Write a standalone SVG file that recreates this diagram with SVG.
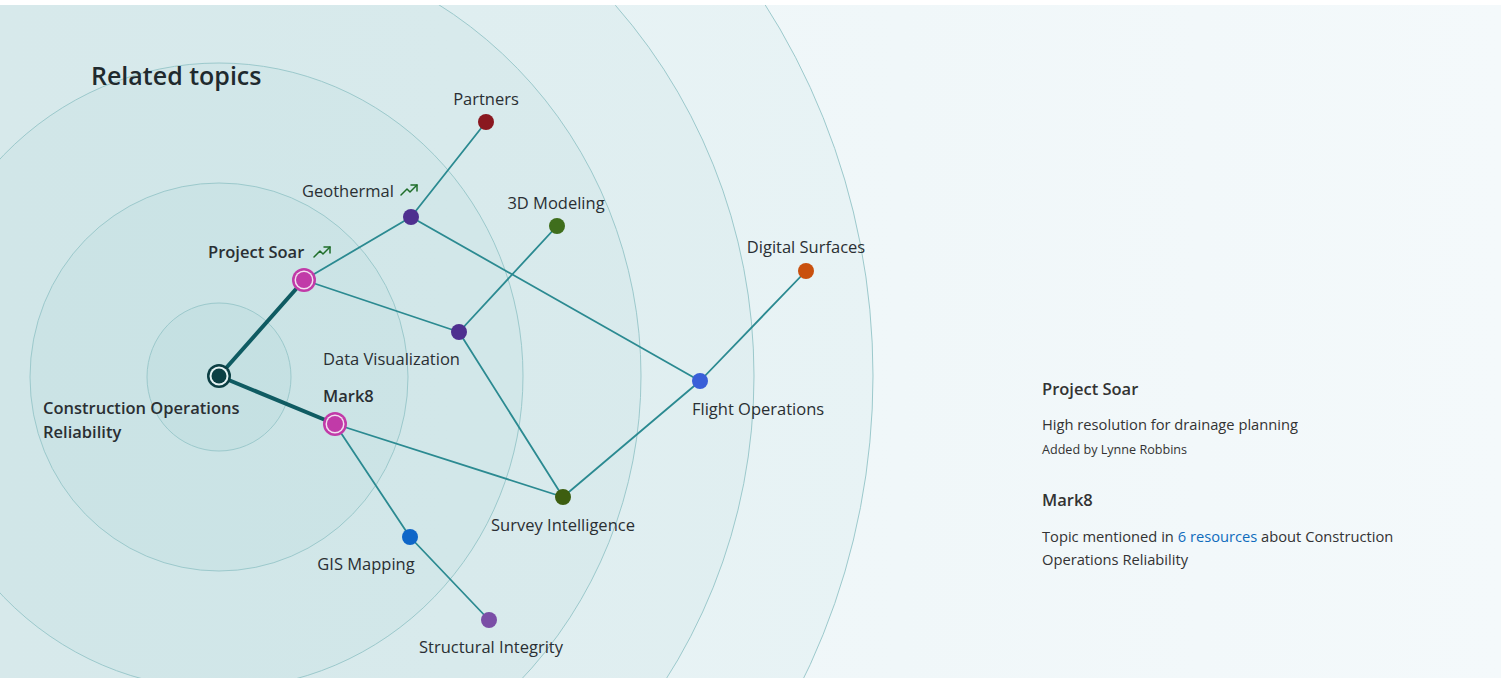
<svg xmlns="http://www.w3.org/2000/svg" width="1506" height="683" viewBox="0 0 1506 683">
<defs>
<linearGradient id="bg" x1="0" y1="0" x2="1" y2="0">
<stop offset="0" stop-color="#ecf5f7"/>
<stop offset="0.6" stop-color="#f0f7f9"/>
<stop offset="1" stop-color="#f4f9fb"/>
</linearGradient>
<g id="trend"><polyline points="0,11 6,5 9,8 16,1" fill="none"/><polyline points="10,1 16,1 16,7" fill="none"/></g>
</defs>
<style>
.ring{fill:#5aa9b0;fill-opacity:0.05;stroke:#9cc9cc;stroke-width:1}
.edge{stroke:#2b8a91;stroke-width:1.8;fill:none;stroke-linecap:round}
.main{stroke:#0f5b62;stroke-width:4;fill:none;stroke-linecap:round}
.lbl{font-family:"Open Sans","Noto Sans",sans-serif;font-size:16.5px;fill:#2a2f33}
.bold{font-weight:600}
.trend{stroke:#1f6e2a;stroke-width:1.5;stroke-linejoin:round;stroke-linecap:round}
.pt{font-family:"Open Sans","Noto Sans",sans-serif;fill:#333}
</style>
<rect width="1506" height="683" fill="#ffffff"/>
<rect x="0" y="5" width="1501" height="673" fill="url(#bg)"/>
<g id="rings">
<ellipse class="ring" cx="219" cy="376" rx="654" ry="675"/>
<ellipse class="ring" cx="219" cy="376" rx="535" ry="552"/>
<ellipse class="ring" cx="219" cy="376" rx="422" ry="435"/>
<ellipse class="ring" cx="219" cy="376" rx="304" ry="313"/>
<ellipse class="ring" cx="219" cy="377" rx="189" ry="194"/>
<ellipse class="ring" cx="219" cy="377" rx="72" ry="74"/>
</g>
<rect x="0" y="0" width="1506" height="5" fill="#ffffff"/>
<rect x="0" y="678" width="1506" height="5" fill="#ffffff"/>
<rect x="1501" y="0" width="5" height="683" fill="#ffffff"/>
<text x="91" y="85" font-family="Open Sans, Noto Sans, sans-serif" font-size="25" font-weight="600" fill="#1f2a2e">Related topics</text>
<g id="connectors">
<line class="edge" x1="304" y1="280" x2="411" y2="217"/>
<line class="edge" x1="411" y1="217" x2="486" y2="122"/>
<line class="edge" x1="411" y1="217" x2="700" y2="381"/>
<line class="edge" x1="304" y1="280" x2="459" y2="332"/>
<line class="edge" x1="459" y1="332" x2="557" y2="226"/>
<line class="edge" x1="459" y1="332" x2="563" y2="497"/>
<line class="edge" x1="335" y1="424" x2="563" y2="497"/>
<line class="edge" x1="563" y1="497" x2="700" y2="381"/>
<line class="edge" x1="700" y1="381" x2="806" y2="271"/>
<line class="edge" x1="335" y1="424" x2="410" y2="537"/>
<line class="edge" x1="410" y1="537" x2="489" y2="620"/>
<line class="main" x1="219" y1="376" x2="304" y2="280"/>
<line class="main" x1="219" y1="376" x2="335" y2="424"/>
</g>
<g id="node-center">
<circle cx="219" cy="376" r="12" fill="#0c3f44"/>
<circle cx="219" cy="376" r="9.5" fill="#e6f3f4"/>
<circle cx="219" cy="376" r="7.5" fill="#0c3f44"/>
<text class="lbl bold" x="43" y="414">Construction Operations</text>
<text class="lbl bold" x="43" y="438">Reliability</text>
</g>
<g id="node-project-soar">
<circle cx="304" cy="280" r="12" fill="#c13aa8"/>
<circle cx="304" cy="280" r="9.5" fill="#f3dff0"/>
<circle cx="304" cy="280" r="8" fill="#c13aa8"/>
<text class="lbl bold" x="208" y="258">Project Soar</text>
<use href="#trend" class="trend" x="314" y="246"/>
</g>
<g id="node-mark8">
<circle cx="335" cy="424" r="12" fill="#c13aa8"/>
<circle cx="335" cy="424" r="9.5" fill="#f3dff0"/>
<circle cx="335" cy="424" r="8" fill="#c13aa8"/>
<text class="lbl bold" x="323" y="402">Mark8</text>
</g>
<g id="node-geothermal">
<circle cx="411" cy="217" r="8" fill="#4e2f8f"/>
<text class="lbl" x="302" y="197">Geothermal</text>
<use href="#trend" class="trend" x="401" y="184"/>
</g>
<g id="node-partners">
<circle cx="486" cy="122" r="8" fill="#8a1820"/>
<text class="lbl" x="486" y="105" text-anchor="middle">Partners</text>
</g>
<g id="node-3d-modeling">
<circle cx="557" cy="226" r="8" fill="#3f6e1c"/>
<text class="lbl" x="556" y="209" text-anchor="middle">3D Modeling</text>
</g>
<g id="node-data-visualization">
<circle cx="459" cy="332" r="8" fill="#4e2f8f"/>
<text class="lbl" x="323" y="365">Data Visualization</text>
</g>
<g id="node-digital-surfaces">
<circle cx="806" cy="271" r="8" fill="#c9500e"/>
<text class="lbl" x="806" y="253" text-anchor="middle">Digital Surfaces</text>
</g>
<g id="node-flight-operations">
<circle cx="700" cy="381" r="8" fill="#3a5fd8"/>
<text class="lbl" x="692" y="415">Flight Operations</text>
</g>
<g id="node-survey-intelligence">
<circle cx="563" cy="497" r="8" fill="#3d5e10"/>
<text class="lbl" x="563" y="531" text-anchor="middle">Survey Intelligence</text>
</g>
<g id="node-gis-mapping">
<circle cx="410" cy="537" r="8" fill="#0f66c8"/>
<text class="lbl" x="366" y="570" text-anchor="middle">GIS Mapping</text>
</g>
<g id="node-structural-integrity">
<circle cx="489" cy="620" r="8" fill="#7a4ea6"/>
<text class="lbl" x="491" y="653" text-anchor="middle">Structural Integrity</text>
</g>
<g id="details">
<text class="pt" x="1042" y="395" font-size="16.5" font-weight="600" fill="#2a2f33">Project Soar</text>
<text class="pt" x="1042" y="430" font-size="14.7">High resolution for drainage planning</text>
<text class="pt" x="1042" y="454" font-size="12.6" fill="#666">Added by Lynne Robbins</text>
<text class="pt" x="1042" y="506" font-size="16.5" font-weight="600" fill="#2a2f33">Mark8</text>
<text class="pt" x="1042" y="542" font-size="14.7">Topic mentioned in <tspan fill="#0f6cbd">6 resources</tspan> about Construction</text>
<text class="pt" x="1042" y="565" font-size="14.7">Operations Reliability</text>
</g>
</svg>
